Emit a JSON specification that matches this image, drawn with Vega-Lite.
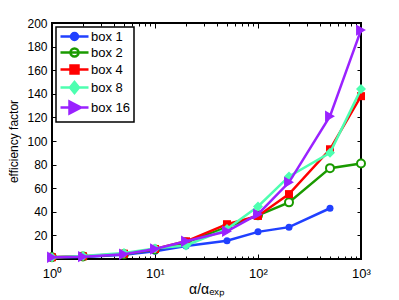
{
  "$schema": "https://vega.github.io/schema/vega-lite/v6.json",
  "width": 309,
  "height": 236,
  "autosize": {"type": "none"},
  "padding": {"left": 52, "top": 23, "right": 38, "bottom": 41},
  "background": "white",
  "config": {
    "view": {"stroke": "black", "strokeWidth": 2},
    "font": "Liberation Sans",
    "axis": {"grid": false, "domain": false, "labelFlush": false, "labelFont": "Liberation Sans", "titleFont": "Liberation Sans", "labelColor": "black", "titleColor": "black", "tickColor": "black", "titleFontWeight": "normal"},
    "legend": {
      "orient": "top-left", "offset": 4, "strokeColor": "black", "fillColor": "white",
      "padding": 3, "symbolSize": 100, "symbolOffset": 9, "labelOffset": 10,
      "labelFontSize": 13, "labelFont": "Liberation Sans", "labelColor": "black", "rowPadding": -2, "symbolStrokeWidth": 2.5, "strokeWidth": 1.5, "symbolOpacity": 1
    }
  },
  "data": {"values": [
    {"x": 1, "y": 1.5, "series": "box 1"}, {"x": 2, "y": 1.8, "series": "box 1"}, {"x": 5, "y": 3.5, "series": "box 1"}, {"x": 10, "y": 6.5, "series": "box 1"}, {"x": 20, "y": 11, "series": "box 1"}, {"x": 50, "y": 15.5, "series": "box 1"}, {"x": 100, "y": 23, "series": "box 1"}, {"x": 200, "y": 27, "series": "box 1"}, {"x": 500, "y": 43, "series": "box 1"},
    {"x": 1, "y": 1.5, "series": "box 2"}, {"x": 2, "y": 2.2, "series": "box 2"}, {"x": 5, "y": 4, "series": "box 2"}, {"x": 10, "y": 8, "series": "box 2"}, {"x": 20, "y": 14, "series": "box 2"}, {"x": 50, "y": 27, "series": "box 2"}, {"x": 100, "y": 37, "series": "box 2"}, {"x": 200, "y": 48, "series": "box 2"}, {"x": 500, "y": 77, "series": "box 2"}, {"x": 1000, "y": 81, "series": "box 2"},
    {"x": 1, "y": 1.5, "series": "box 4"}, {"x": 2, "y": 2.3, "series": "box 4"}, {"x": 5, "y": 4.5, "series": "box 4"}, {"x": 10, "y": 8.5, "series": "box 4"}, {"x": 20, "y": 15, "series": "box 4"}, {"x": 50, "y": 29.5, "series": "box 4"}, {"x": 100, "y": 36.5, "series": "box 4"}, {"x": 200, "y": 55, "series": "box 4"}, {"x": 500, "y": 93, "series": "box 4"}, {"x": 1000, "y": 138, "series": "box 4"},
    {"x": 1, "y": 1.5, "series": "box 8"}, {"x": 2, "y": 2.5, "series": "box 8"}, {"x": 5, "y": 5, "series": "box 8"}, {"x": 10, "y": 9, "series": "box 8"}, {"x": 20, "y": 11.5, "series": "box 8"}, {"x": 50, "y": 25.5, "series": "box 8"}, {"x": 100, "y": 44.5, "series": "box 8"}, {"x": 200, "y": 70, "series": "box 8"}, {"x": 500, "y": 90, "series": "box 8"}, {"x": 1000, "y": 144, "series": "box 8"},
    {"x": 1, "y": 1.5, "series": "box 16"}, {"x": 2, "y": 2, "series": "box 16"}, {"x": 5, "y": 4, "series": "box 16"}, {"x": 10, "y": 8.5, "series": "box 16"}, {"x": 20, "y": 15, "series": "box 16"}, {"x": 50, "y": 23.5, "series": "box 16"}, {"x": 100, "y": 38, "series": "box 16"}, {"x": 200, "y": 65, "series": "box 16"}, {"x": 500, "y": 121, "series": "box 16"}, {"x": 1000, "y": 194, "series": "box 16"}
  ]},
  "resolve": {"axis": {"x": "independent", "y": "independent"}},
  "layer": [
    {
      "transform": [{"filter": "datum.series == 'box 1'"}],
      "mark": {"type": "line", "color": "#2040ff", "strokeWidth": 2.5, "point": {"filled": true, "shape": "circle", "size": 49, "color": "#2040ff", "opacity": 1}},
      "encoding": {
        "x": {"field": "x", "type": "quantitative", "scale": {"type": "log", "domain": [1, 1000], "nice": false},
              "axis": {"orient": "bottom", "values": [1, 10, 100, 1000], "ticks": false, "labelPadding": 8, "labelFontSize": 13,
                       "labelExpr": "datum.value == 1 ? '10⁰' : datum.value == 10 ? '10¹' : datum.value == 100 ? '10²' : '10³'",
                       "title": "α/αₑₓₚ", "titleFontSize": 14, "titlePadding": 2}},
        "y": {"field": "y", "type": "quantitative", "scale": {"domain": [0, 200], "nice": false},
              "axis": {"orient": "left", "values": [20, 40, 60, 80, 100, 120, 140, 160, 180, 200], "ticks": false, "labelPadding": 5, "labelFontSize": 12,
                       "title": "efficiency factor", "titleFontSize": 12, "titlePadding": 6}}
      }
    },
    {
      "transform": [{"filter": "datum.series == 'box 2'"}],
      "mark": {"type": "line", "color": "#1a9a00", "strokeWidth": 2.5, "point": {"filled": false, "fill": "white", "shape": "circle", "size": 64, "strokeWidth": 2, "color": "#1a9a00", "opacity": 1}},
      "encoding": {"x": {"field": "x", "type": "quantitative", "axis": null}, "y": {"field": "y", "type": "quantitative", "axis": null}}
    },
    {
      "transform": [{"filter": "datum.series == 'box 4'"}],
      "mark": {"type": "line", "color": "#ff0000", "strokeWidth": 2.5, "point": {"filled": true, "shape": "square", "size": 64, "color": "#ff0000", "opacity": 1}},
      "encoding": {"x": {"field": "x", "type": "quantitative", "axis": null}, "y": {"field": "y", "type": "quantitative", "axis": null}}
    },
    {
      "transform": [{"filter": "datum.series == 'box 8'"}],
      "mark": {"type": "line", "color": "#4dffb0", "strokeWidth": 2.5, "point": {"filled": true, "shape": "diamond", "size": 100, "color": "#4dffb0", "opacity": 1}},
      "encoding": {"x": {"field": "x", "type": "quantitative", "axis": null}, "y": {"field": "y", "type": "quantitative", "axis": null}}
    },
    {
      "transform": [{"filter": "datum.series == 'box 16'"}],
      "mark": {"type": "line", "color": "#9a22ff", "strokeWidth": 2.5, "point": {"filled": true, "shape": "triangle-right", "size": 130, "color": "#9a22ff", "opacity": 1}},
      "encoding": {"x": {"field": "x", "type": "quantitative", "axis": null}, "y": {"field": "y", "type": "quantitative", "axis": null}}
    },
    {
      "transform": [{"filter": "datum.x > 5000"}],
      "mark": {"type": "point"},
      "encoding": {
        "x": {"field": "x", "type": "quantitative", "axis": {"orient": "bottom", "values": [2,3,4,5,6,7,8,9,20,30,40,50,60,70,80,90,200,300,400,500,600,700,800,900], "labels": false, "tickSize": -3, "title": null}},
        "y": {"field": "y", "type": "quantitative", "axis": {"orient": "left", "values": [20, 40, 60, 80, 100, 120, 140, 160, 180], "labels": false, "tickSize": -4, "title": null}}
      }
    },
    {
      "transform": [{"filter": "datum.x > 5000"}],
      "mark": {"type": "point"},
      "encoding": {
        "x": {"field": "x", "type": "quantitative", "axis": {"orient": "top", "values": [10, 100], "labels": false, "tickSize": -5, "title": null}},
        "y": {"field": "y", "type": "quantitative", "axis": {"orient": "right", "values": [20, 40, 60, 80, 100, 120, 140, 160, 180], "labels": false, "tickSize": -4, "title": null}}
      }
    },
    {
      "transform": [{"filter": "datum.x > 5000"}],
      "mark": {"type": "point"},
      "encoding": {
        "x": {"field": "x", "type": "quantitative", "axis": {"orient": "top", "values": [2,3,4,5,6,7,8,9,20,30,40,50,60,70,80,90,200,300,400,500,600,700,800,900], "labels": false, "tickSize": -3, "title": null}}
      }
    },
    {
      "transform": [{"filter": "datum.x > 5000"}],
      "mark": {"type": "line", "color": "#ff0000"},
      "encoding": {"x": {"field": "x", "type": "quantitative", "axis": {"orient": "bottom", "values": [10, 100], "labels": false, "tickSize": -5, "title": null}}}
    },
    {
      "transform": [{"filter": "datum.x > 5000"}],
      "mark": {"type": "point", "filled": true, "strokeWidth": 2.5, "opacity": 1, "size": 100},
      "encoding": {
        "stroke": {"field": "series", "type": "nominal", "scale": {"domain": ["box 1", "box 2", "box 4", "box 8", "box 16"], "range": ["#2040ff", "#1a9a00", "#ff0000", "#4dffb0", "#9a22ff"]}, "legend": {"title": null}},
        "fill": {"field": "series", "type": "nominal", "scale": {"domain": ["box 1", "box 2", "box 4", "box 8", "box 16"], "range": ["#2040ff", "white", "#ff0000", "#4dffb0", "#9a22ff"]}, "legend": {"title": null}},
        "shape": {"field": "series", "type": "nominal", "scale": {"domain": ["box 1", "box 2", "box 4", "box 8", "box 16"], "range": [
          "M-2.8,0L2.8,0M0.7,0A0.7,0.7,0,1,1,-0.7,0A0.7,0.7,0,1,1,0.7,0Z",
          "M-2.8,0L2.8,0M0.8,0A0.8,0.8,0,1,1,-0.8,0A0.8,0.8,0,1,1,0.8,0Z",
          "M-2.8,0L2.8,0M-0.8,-0.8L0.8,-0.8L0.8,0.8L-0.8,0.8Z",
          "M-2.8,0L2.8,0M0,-1.1L0.9,0L0,1.1L-0.9,0Z",
          "M-2.8,0L2.8,0M-1,-1.2L1.3,0L-1,1.2Z"]}, "legend": {"title": null}}
      }
    }
  ]
}
